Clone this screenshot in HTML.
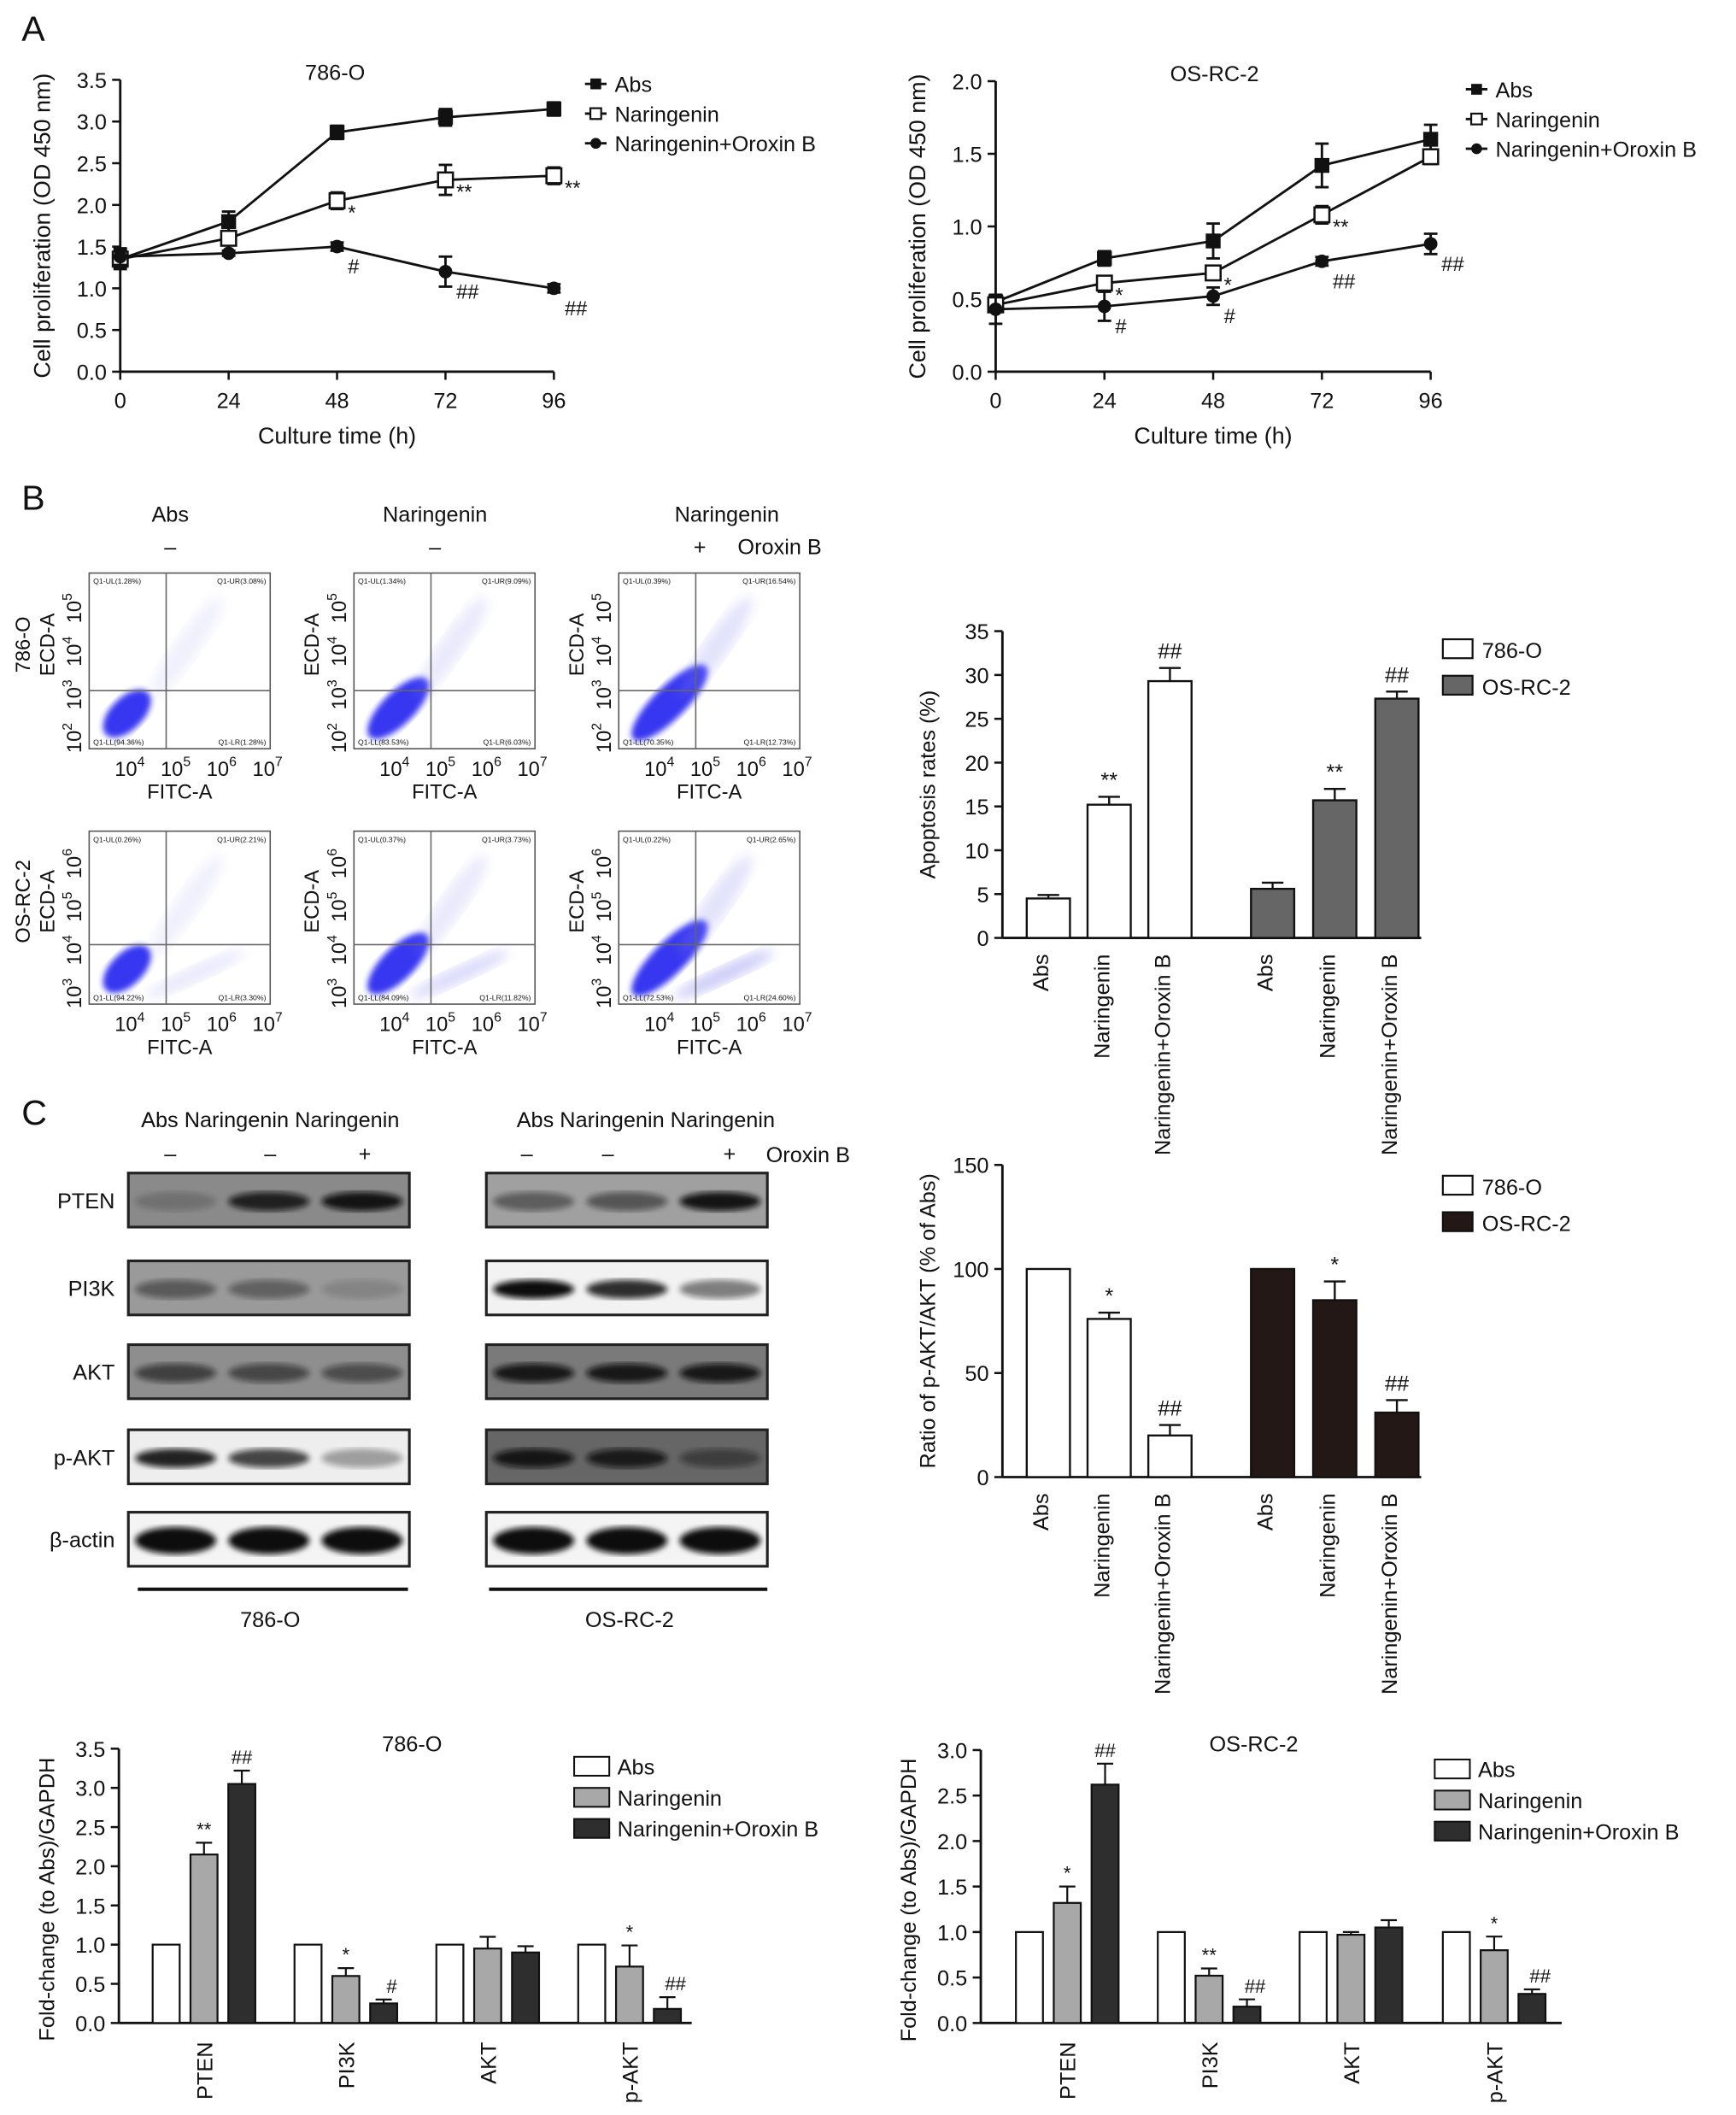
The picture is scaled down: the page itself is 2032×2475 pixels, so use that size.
<!DOCTYPE html>
<html><head><meta charset="utf-8">
<style>
html,body{margin:0;padding:0;background:#fff;}
svg{display:block;font-family:"Liberation Sans",Arial,sans-serif;}
text{fill:#111;}
</style></head>
<body>
<svg id="fig" width="2032" height="2475" viewBox="0 0 1285 1565" xmlns="http://www.w3.org/2000/svg">
<defs>
<filter id="blur2"><feGaussianBlur stdDeviation="2.2"/></filter>
<filter id="blur4"><feGaussianBlur stdDeviation="4"/></filter>
</defs>
<g id="root"></g>
</svg>
<script>
// ---------- Panel A data ----------
const timeCats = [0, 24, 48, 72, 96];
const a1Abs = [1.35, 1.80, 2.87, 3.05, 3.15];
const a1Nar = [1.35, 1.60, 2.05, 2.30, 2.35];
const a1NarOx = [1.38, 1.42, 1.50, 1.20, 1.00];
const a1AbsErr = [0.12, 0.12, 0.08, 0.10, 0.08];
const a1NarErr = [0.10, 0.15, 0.10, 0.18, 0.10];
const a1NarOxErr = [0.10, 0.03, 0.05, 0.18, 0.05];
const a1Yticks = [0.0, 0.5, 1.0, 1.5, 2.0, 2.5, 3.0, 3.5];
const a1NarMarks = ["", "", "*", "**", "**"];
const a1OxMarks = ["", "", "#", "##", "##"];
const a2Abs = [0.48, 0.78, 0.90, 1.42, 1.60];
const a2Nar = [0.46, 0.61, 0.68, 1.08, 1.48];
const a2NarOx = [0.43, 0.45, 0.52, 0.76, 0.88];
const a2AbsErr = [0.04, 0.05, 0.12, 0.15, 0.10];
const a2NarErr = [0.04, 0.04, 0.03, 0.06, 0.05];
const a2NarOxErr = [0.10, 0.10, 0.06, 0.03, 0.07];
const a2Yticks = [0.0, 0.5, 1.0, 1.5, 2.0];
const a2NarMarks = ["", "*", "*", "**", ""];
const a2OxMarks = ["", "#", "#", "##", "##"];
// ---------- Panel B bar data ----------
const apopCats = ["Abs", "Naringenin", "Naringenin+Oroxin B", "Abs", "Naringenin", "Naringenin+Oroxin B"];
const apopVals = [4.5, 15.2, 29.3, 5.6, 15.7, 27.3];
const apopErr = [0.4, 0.9, 1.5, 0.7, 1.3, 0.8];
const apopMarks = ["", "**", "##", "", "**", "##"];
const apopTicks = [0, 5, 10, 15, 20, 25, 30, 35];
// ---------- Panel C ratio data ----------
const ratioVals = [100, 76, 20, 100, 85, 31];
const ratioErr = [0, 3, 5, 0, 9, 6];
const ratioMarks = ["", "*", "##", "", "*", "##"];
const ratioTicks = [0, 50, 100, 150];
// ---------- Fold-change data ----------
const foldCats = ["PTEN", "PI3K", "AKT", "p-AKT"];
const fold1Abs = [1, 1, 1, 1];
const fold1Nar = [2.15, 0.60, 0.95, 0.72];
const fold1Ox = [3.05, 0.25, 0.90, 0.18];
const fold1NarErr = [0.15, 0.10, 0.15, 0.27];
const fold1OxErr = [0.17, 0.05, 0.08, 0.15];
const fold1NarMarks = ["**", "*", "", "*"];
const fold1OxMarks = ["##", "#", "", "##"];
const fold1Ticks = [0.0, 0.5, 1.0, 1.5, 2.0, 2.5, 3.0, 3.5];
const fold2Abs = [1, 1, 1, 1];
const fold2Nar = [1.32, 0.52, 0.97, 0.80];
const fold2Ox = [2.62, 0.18, 1.05, 0.32];
const fold2NarErr = [0.18, 0.08, 0.03, 0.15];
const fold2OxErr = [0.23, 0.08, 0.08, 0.05];
const fold2NarMarks = ["*", "**", "", "*"];
const fold2OxMarks = ["##", "##", "", "##"];
const fold2Ticks = [0.0, 0.5, 1.0, 1.5, 2.0, 2.5, 3.0];

const NS = "http://www.w3.org/2000/svg";
const root = document.getElementById("root");
function mk(tag, attrs, parent, txt) {
  const e = document.createElementNS(NS, tag);
  for (const k in attrs) e.setAttribute(k, attrs[k]);
  if (txt !== undefined) e.textContent = txt;
  (parent || root).appendChild(e);
  return e;
}
function T(x, y, s, size, anchor, parent, extra) {
  const a = {x: x, y: y, "font-size": size, "text-anchor": anchor || "start"};
  if (extra) for (const k in extra) a[k] = extra[k];
  return mk("text", a, parent, s);
}
function L(x1, y1, x2, y2, w, parent) {
  return mk("line", {x1: x1, y1: y1, x2: x2, y2: y2, stroke: "#111", "stroke-width": w || 1.6}, parent);
}
function fmt(v, d) { return v.toFixed(d); }

let t;
t = T(16, 30, "A", 26);  
t = T(16, 377, "B", 26);  
t = T(16, 832, "C", 26);  

function lineChart(name, ox, x96, y0, yTop, yMax, yticks, dec, title, titleX, series, legX, legY) {
  const g = mk("g", {});
  
  
  const sx = v => ox + (x96 - ox) * v / 96;
  const sy = v => y0 - (y0 - yTop) * v / yMax;
  L(ox, y0, ox, sy(yticks[yticks.length - 1]), 1.8, g);
  L(ox, y0, x96, y0, 1.8, g);
  yticks.forEach(v => { L(ox - 6, sy(v), ox, sy(v), 1.6, g); T(ox - 10, sy(v) + 6, fmt(v, dec), 16, "end", g); });
  timeCats.forEach(v => { L(sx(v), y0, sx(v), y0 + 6, 1.6, g); T(sx(v), y0 + 27, String(v), 16, "middle", g); });
  T((ox + x96) / 2, y0 + 53, "Culture time (h)", 17, "middle", g);
  T(0, 0, "Cell proliferation (OD 450 nm)", 17, "middle", g, {transform: `translate(${ox - 52},${(y0 + sy(yticks[yticks.length-1])) / 2}) rotate(-90)`});
  T(titleX, yTop - 0, title, 16, "middle", g);
  series.forEach((s, si) => {
    const pts = s.vals.map((v, i) => sx(timeCats[i]) + "," + sy(v)).join(" ");
    const pl = mk("polyline", {points: pts, fill: "none", stroke: "#111", "stroke-width": 1.8}, g);
    
    
    s.vals.forEach((v, i) => {
      const x = sx(timeCats[i]), y = sy(v), e = s.err[i];
      L(x, sy(v + e), x, sy(v - e), 1.8, g);
      L(x - 5, sy(v + e), x + 5, sy(v + e), 1.8, g);
      L(x - 5, sy(v - e), x + 5, sy(v - e), 1.8, g);
      let m;
      if (s.marker === "sq") m = mk("rect", {x: x - 5.5, y: y - 5.5, width: 11, height: 11, fill: "#111"}, g);
      else if (s.marker === "open") m = mk("rect", {x: x - 5.5, y: y - 5.5, width: 11, height: 11, fill: "#fff", stroke: "#111", "stroke-width": 1.6}, g);
      else m = mk("circle", {cx: x, cy: y, r: 5, fill: "#111"}, g);
      
      
      if (s.marks[i]) T(x + 8, y + (s.marks[i][0] === "#" ? 20 : 14), s.marks[i], 15, "start", g, {fill: "#333"});
    });
    const ly = legY + si * 22;
    const lg = mk("g", {}, g);
    
    
    L(legX - 8, ly, legX + 8, ly, 1.8, lg);
    if (s.marker === "sq") mk("rect", {x: legX - 4, y: ly - 4, width: 8, height: 8, fill: "#111"}, lg);
    else if (s.marker === "open") mk("rect", {x: legX - 4, y: ly - 4, width: 8, height: 8, fill: "#fff", stroke: "#111", "stroke-width": 1.4}, lg);
    else mk("circle", {cx: legX, cy: ly, r: 4, fill: "#111"}, lg);
    T(legX + 14, ly + 6, s.label, 16, "start", lg);
  });
}
lineChart("proliferation-786o-chart", 89, 410, 275, 59, 3.5, a1Yticks, 1, "786-O", 248, [
  {name: "abs", label: "Abs", vals: a1Abs, err: a1AbsErr, marker: "sq", marks: ["", "", "", "", ""]},
  {name: "naringenin", label: "Naringenin", vals: a1Nar, err: a1NarErr, marker: "open", marks: a1NarMarks},
  {name: "naringenin-oroxin", label: "Naringenin+Oroxin B", vals: a1NarOx, err: a1NarOxErr, marker: "dot", marks: a1OxMarks}
], 441, 62);
lineChart("proliferation-osrc2-chart", 737, 1059, 275, 60, 2.0, a2Yticks, 1, "OS-RC-2", 899, [
  {name: "abs", label: "Abs", vals: a2Abs, err: a2AbsErr, marker: "sq", marks: ["", "", "", "", ""]},
  {name: "naringenin", label: "Naringenin", vals: a2Nar, err: a2NarErr, marker: "open", marks: a2NarMarks},
  {name: "naringenin-oroxin", label: "Naringenin+Oroxin B", vals: a2NarOx, err: a2NarOxErr, marker: "dot", marks: a2OxMarks}
], 1093, 66);

// ---------- Flow cytometry ----------
const flowHeads = [["Abs", "–"], ["Naringenin", "–"], ["Naringenin", "+"]];
const flowQuad = [
  [["1.28%", "3.08%", "94.36%", "1.28%"], ["1.34%", "9.09%", "83.53%", "6.03%"], ["0.39%", "16.54%", "70.35%", "12.73%"]],
  [["0.26%", "2.21%", "94.22%", "3.30%"], ["0.37%", "3.73%", "84.09%", "11.82%"], ["0.22%", "2.65%", "72.53%", "24.60%"]]
];
const colX = [66, 262, 458];
const rowY = [424, 615];
flowHeads.forEach((h, i) => {
  T(colX[i] + 60 + (i == 2 ? 20 : 0), 386, h[0], 16, "middle");
  T(colX[i] + 60, 410, h[1], 16, "middle");
});
T(546, 410, "Oroxin B", 16, "start");
for (let r = 0; r < 2; r++) for (let c = 0; c < 3; c++) {
  const x = colX[c], y = rowY[r], w = 134, h = r ? 128 : 130;
  const g = mk("g", {});
  
  
  mk("rect", {x: x, y: y, width: w, height: h, fill: "#fff", stroke: "#555", "stroke-width": 1}, g);
  const qx = x + 57, qy = y + (r ? 84 : 87);
  const shift = c * 8;
  const bx = x + 28 + shift * 0.6, by = y + h - 26 - shift * 0.5;
  mk("ellipse", {cx: bx, cy: by, rx: 22 + shift, ry: 12, fill: "#2424f0", opacity: 0.9, transform: `rotate(-45 ${bx} ${by})`, filter: "url(#blur2)"}, g);
  mk("ellipse", {cx: x + 72, cy: y + 55, rx: 45, ry: 9, fill: "#8a8aee", opacity: 0.12 + c * 0.06, transform: `rotate(-55 ${x+72} ${y+55})`, filter: "url(#blur4)"}, g);
  if (r == 1) mk("ellipse", {cx: x + 78, cy: y + h - 22, rx: 40, ry: 6, fill: "#7070ee", opacity: 0.15 + c * 0.1, transform: `rotate(-25 ${x+78} ${y+h-22})`, filter: "url(#blur4)"}, g);
  L(qx, y, qx, y + h, 1, g).setAttribute("stroke", "#666");
  L(x, qy, x + w, qy, 1, g).setAttribute("stroke", "#666");
  const q = flowQuad[r][c];
  T(x + 3, y + 8, `Q1-UL(${q[0]})`, 5.5, "start", g, {fill: "#333"});
  T(x + w - 3, y + 8, `Q1-UR(${q[1]})`, 5.5, "end", g, {fill: "#333"});
  T(x + 3, y + h - 3, `Q1-LL(${q[2]})`, 5.5, "start", g, {fill: "#333"});
  T(x + w - 3, y + h - 3, `Q1-LR(${q[3]})`, 5.5, "end", g, {fill: "#333"});
  [4, 5, 6, 7].forEach((p, k) => {
    const tx = x + 30 + k * 34;
    const tt = T(tx, y + h + 20, "10", 15, "middle", g);
    mk("tspan", {dy: -7, "font-size": 10}, tt, String(p));
  });
  T(x + 67, y + h + 37, "FITC-A", 15, "middle", g);
  const yp = r ? [3, 4, 5, 6] : [2, 3, 4, 5];
  yp.forEach((p, k) => {
    const ty = y + h - 8 - k * 32;
    const tt = T(0, 0, "10", 15, "middle", g, {transform: `translate(${x - 6},${ty}) rotate(-90)`});
    mk("tspan", {dy: -7, "font-size": 10}, tt, String(p));
  });
  T(0, 0, "ECD-A", 15, "middle", g, {transform: `translate(${x - 26},${y + h/2 - 12}) rotate(-90)`});
  if (c == 0) T(0, 0, r ? "OS-RC-2" : "786-O", 15, "middle", g, {transform: `translate(${x - 44},${y + h/2 - 12}) rotate(-90)`});
}

function barChart6(name, ox, y0, yTop, yMax, ticks, vals, errs, marks, colors, ylabel, legLabels, legY, legColors) {
  const g = mk("g", {});
  
  
  const centers = [776, 821, 866, 942, 988, 1034];
  const sy = v => y0 - (y0 - yTop) * v / yMax;
  L(ox, y0, ox, sy(ticks[ticks.length - 1]), 1.8, g);
  L(ox, y0, 1052, y0, 1.8, g);
  ticks.forEach(v => { L(ox - 6, sy(v), ox, sy(v), 1.6, g); T(ox - 10, sy(v) + 6, String(v), 16, "end", g); });
  T(0, 0, ylabel, 16, "middle", g, {transform: `translate(${ox - 50},${(y0 + yTop) / 2}) rotate(-90)`});
  vals.forEach((v, i) => {
    const cx = centers[i];
    const b = mk("rect", {x: cx - 16, y: sy(v), width: 32, height: y0 - sy(v), fill: colors[i], stroke: "#111", "stroke-width": 1.5}, g);
    
    
    if (errs[i] > 0) {
      L(cx, sy(v), cx, sy(v + errs[i]), 1.5, g);
      L(cx - 8, sy(v + errs[i]), cx + 8, sy(v + errs[i]), 1.5, g);
    }
    if (marks[i]) T(cx, sy(v + errs[i]) - 7, marks[i], 16, "middle", g);
    T(0, 0, apopCats[i], 16, "end", g, {transform: `translate(${cx},${y0 + 12}) rotate(-90)`});
  });
  legLabels.forEach((s, k) => {
    const ly = legY + k * 27;
    const lg = mk("g", {}, g);
    
    
    mk("rect", {x: 1068, y: ly - 9, width: 22, height: 14, fill: legColors[k], stroke: "#111", "stroke-width": 1.4}, lg);
    T(1097, ly + 5, s, 16, "start", lg);
  });
}
barChart6("apoptosis-bar-chart", 742, 694, 467, 35, apopTicks, apopVals, apopErr, apopMarks,
  ["#fff", "#fff", "#fff", "#666", "#666", "#666"], "Apoptosis rates (%)", ["786-O", "OS-RC-2"], 482, ["#fff", "#666"]);
barChart6("pakt-ratio-bar-chart", 742, 1093, 862, 150, ratioTicks, ratioVals, ratioErr, ratioMarks,
  ["#fff", "#fff", "#fff", "#231816", "#231816", "#231816"], "Ratio of p-AKT/AKT (% of Abs)", ["786-O", "OS-RC-2"], 879, ["#fff", "#231816"]);

const blotRows = ["PTEN", "PI3K", "AKT", "p-AKT", "β-actin"];
const blotY = [868, 933, 995, 1058, 1119];
const blotBg1 = ["#8a8a8a", "#9a9a9a", "#8e8e8e", "#eeeeee", "#f4f4f4"];
const blotBg2 = ["#a0a0a0", "#f2f2f2", "#7a7a7a", "#666666", "#f4f4f4"];
const band1 = [[0.2, 0.85, 0.95], [0.45, 0.4, 0.15], [0.6, 0.55, 0.5], [0.9, 0.75, 0.35], [1, 1, 1]];
const band2 = [[0.45, 0.5, 0.95], [1, 0.85, 0.5], [0.9, 0.9, 0.9], [0.9, 0.85, 0.45], [1, 1, 1]];
T(200, 834, "Abs Naringenin Naringenin", 16, "middle");
T(478, 834, "Abs  Naringenin  Naringenin", 16, "middle");
[126, 200, 270, 390, 450, 540].forEach((x, i) => T(x, 859, i % 3 == 2 ? "+" : "–", 16, "middle"));
T(567, 860, "Oroxin B", 16, "start");
blotRows.forEach((nm, r) => {
  T(85, blotY[r] + 26, nm, 16, "end");
  [[95, blotBg1, band1], [360, blotBg2, band2]].forEach(([bx, bg, bd], side) => {
    const g = mk("g", {});
    
    
    const w = 208, h = 40;
    mk("rect", {x: bx, y: blotY[r], width: w, height: h, fill: bg[r], stroke: "#222", "stroke-width": 2}, g);
    bd[r].forEach((d, k) => {
      const cx = bx + 35 + k * 69;
      mk("ellipse", {cx: cx, cy: blotY[r] + 21, rx: 30, ry: nm === "β-actin" ? 10 : 7, fill: "#080808", opacity: d, filter: "url(#blur2)"}, g);
    });
  });
});
L(102, 1176, 302, 1176, 2.5); L(362, 1176, 568, 1176, 2.5);
T(200, 1204, "786-O", 16, "middle"); T(466, 1204, "OS-RC-2", 16, "middle");

function foldChart(name, ox, y0, yTop, yMax, ticks, centers, abs, nar, ox2, narErr, oxErr, narMarks, oxMarks, title, titleX, legX, legY, xEnd) {
  const g = mk("g", {});
  
  
  const sy = v => y0 - (y0 - yTop) * v / yMax;
  L(ox, y0, ox, sy(ticks[ticks.length - 1]), 1.8, g);
  L(ox, y0, xEnd, y0, 1.8, g);
  ticks.forEach(v => { L(ox - 6, sy(v), ox, sy(v), 1.6, g); T(ox - 10, sy(v) + 6, fmt(v, 1), 16, "end", g); });
  T(0, 0, "Fold-change (to Abs)/GAPDH", 16, "middle", g, {transform: `translate(${ox - 48},${(y0 + yTop) / 2 + 10}) rotate(-90)`});
  T(titleX, 1296, title, 16, "middle", g);
  const fills = ["#fff", "#a8a8a8", "#2e2e2e"];
  foldCats.forEach((c, i) => {
    const c0 = centers[i];
    [abs[i], nar[i], ox2[i]].forEach((v, k) => {
      const cx = c0 + k * 28;
      const b = mk("rect", {x: cx - 10, y: sy(v), width: 20, height: y0 - sy(v), fill: fills[k], stroke: "#111", "stroke-width": 1.4}, g);
      
      
      const e = k == 1 ? narErr[i] : k == 2 ? oxErr[i] : 0;
      if (e > 0) { L(cx, sy(v), cx, sy(v + e), 1.4, g); L(cx - 6, sy(v + e), cx + 6, sy(v + e), 1.4, g); }
      const m = k == 1 ? narMarks[i] : k == 2 ? oxMarks[i] : "";
      if (m) T(cx + (m[0] === "#" && v < 0.5 ? 6 : 0), sy(v + e) - 5, m, 14, "middle", g);
    });
    T(0, 0, c, 16, "end", g, {transform: `translate(${c0 + 34},${y0 + 14}) rotate(-90)`});
  });
  ["Abs", "Naringenin", "Naringenin+Oroxin B"].forEach((s, k) => {
    const ly = legY + k * 23;
    const lg = mk("g", {}, g);
    
    
    mk("rect", {x: legX, y: ly - 8, width: 26, height: 14, fill: fills[k], stroke: "#111", "stroke-width": 1.3}, lg);
    T(legX + 32, ly + 5, s, 16, "start", lg);
  });
}
foldChart("fold-change-786o-chart", 88, 1497, 1294, 3.5, fold1Ticks, [123, 228, 333, 438], fold1Abs, fold1Nar, fold1Ox, fold1NarErr, fold1OxErr, fold1NarMarks, fold1OxMarks, "786-O", 305, 425, 1308, 512);
foldChart("fold-change-osrc2-chart", 726, 1497, 1295, 3.0, fold2Ticks, [762, 867, 972, 1078], fold2Abs, fold2Nar, fold2Ox, fold2NarErr, fold2OxErr, fold2NarMarks, fold2OxMarks, "OS-RC-2", 928, 1062, 1310, 1156);
</script>
</body></html>
